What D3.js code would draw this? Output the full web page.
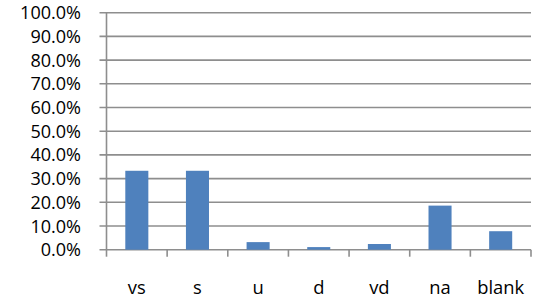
<html>
<head>
    <meta charset="utf-8">
    <title>chart</title>
    <script src="https://cdn.jsdelivr.net/npm/d3@7"></script>
    <style>
        body { margin: 0; background: #fff; }
        text { font-family: "Open Sans", sans-serif; fill: #000; }
    </style>
</head>
<body>
<script>
    var categories = ["vs", "s", "u", "d", "vd", "na", "blank"];
    var values = [0.333, 0.333, 0.032, 0.011, 0.024, 0.186, 0.078];
    var yTicks = [0, 0.1, 0.2, 0.3, 0.4, 0.5, 0.6, 0.7, 0.8, 0.9, 1.0];

    var width = 535;
    var height = 305;
    var margin = {top: 12.7, right: 4, bottom: 55.3, left: 106.5};

    var svg = d3.select("body")
        .append("svg")
        .attr("width", width)
        .attr("height", height);

    var x = d3.scaleBand()
        .domain(categories)
        .range([margin.left, width - margin.right])
        .paddingInner(0.62)
        .paddingOuter(0.31);

    var y = d3.scaleLinear()
        .domain([0, 1])
        .range([height - margin.bottom, margin.top]);

    var gridColor = "#8e8e8e";

    // gridlines
    svg.selectAll("line.grid")
        .data(yTicks)
        .enter().append("line")
        .attr("class", "grid")
        .attr("x1", margin.left - 7)
        .attr("x2", width - margin.right)
        .attr("y1", function(d){ return y(d); })
        .attr("y2", function(d){ return y(d); })
        .attr("stroke", gridColor)
        .attr("stroke-width", 1.6);

    // y labels
    var ylabs = svg.selectAll("text.ylab")
        .data(yTicks)
        .enter().append("text")
        .attr("class", "ylab")
        .attr("x", 81)
        .attr("y", function(d){ return y(d); })
        .attr("dy", "0.36em")
        .attr("text-anchor", "end")
        .attr("font-size", "16px")
        .text(function(d){ return d3.format(".1%")(d); });

    // size so "100.0%" is about 61px wide, like the picture
    var w100 = ylabs.filter(function(d){ return d === 1; }).node().getComputedTextLength();
    var ySize = 16 * 61 / w100;
    ylabs.attr("font-size", ySize + "px");

    // y axis line
    svg.append("line")
        .attr("x1", margin.left).attr("x2", margin.left)
        .attr("y1", y(1)).attr("y2", y(0) + 7)
        .attr("stroke", gridColor)
        .attr("stroke-width", 1.6);

    // x ticks at category boundaries
    var step = x.step();
    var bounds = categories.map(function(c, i){ return margin.left + (i + 1) * step; });
    svg.selectAll("line.xtick")
        .data(bounds)
        .enter().append("line")
        .attr("class", "xtick")
        .attr("x1", function(d){ return d; })
        .attr("x2", function(d){ return d; })
        .attr("y1", y(0))
        .attr("y2", y(0) + 7)
        .attr("stroke", gridColor)
        .attr("stroke-width", 1.6);

    // bars
    svg.selectAll("rect")
        .data(values)
        .enter().append("rect")
        .attr("fill", "#4f81bd")
        .attr("x", function(d, i){ return x(categories[i]); })
        .attr("y", function(d){ return y(d); })
        .attr("width", x.bandwidth())
        .attr("height", function(d){ return y(0) - y(d); });

    // x labels
    var xlabs = svg.selectAll("text.xlab")
        .data(categories)
        .enter().append("text")
        .attr("class", "xlab")
        .attr("x", function(d){ return x(d) + x.bandwidth() / 2; })
        .attr("y", 294)
        .attr("text-anchor", "middle")
        .attr("font-size", "16px")
        .text(function(d){ return d; });

    var wBlank = xlabs.filter(function(d){ return d === "blank"; }).node().getComputedTextLength();
    xlabs.attr("font-size", (16 * 47 / wBlank) + "px");
</script>
</body>
</html>
